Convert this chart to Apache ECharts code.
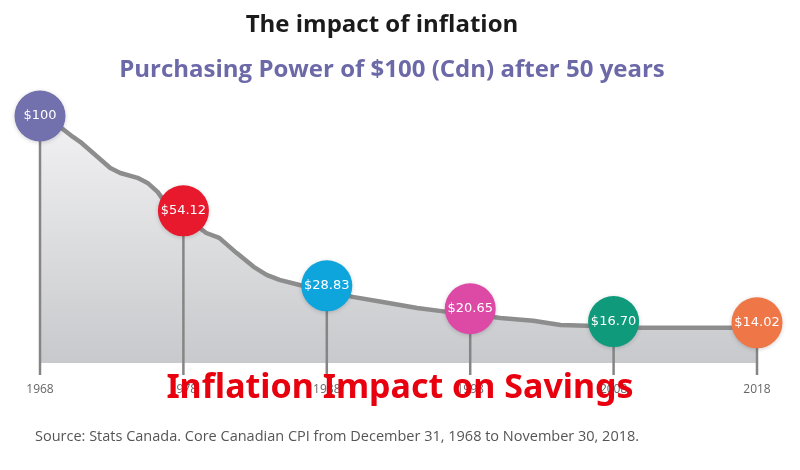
<!DOCTYPE html>
<html>
<head>
<meta charset="utf-8">
<script src="https://cdn.jsdelivr.net/npm/echarts/dist/echarts.min.js"></script>
<style>
html,body{margin:0;padding:0;background:#fff;}
#chart{width:800px;height:470px;}
</style>
</head>
<body>
<div id="chart"></div>
<script>
// Purchasing power curve: [year, value]
var powerLine = [
  [1968, 100], [1969.5, 97.1], [1970.3, 93.4], [1970.8, 91.4], [1972, 85.2],
  [1972.9, 80.6], [1973.6, 78.5], [1974.8, 76.5], [1975.5, 74.4], [1976.2, 70.7],
  [1976.6, 67.4], [1978, 60.8], [1979.6, 53.7], [1980.5, 51.7], [1981.7, 45.5],
  [1982.9, 39.7], [1983.8, 36.4], [1984.7, 34.3], [1986.1, 32.2], [1988, 29.8],
  [1989.8, 27.3], [1991.9, 25.2], [1994.3, 22.7], [1996.4, 21.1], [1998, 20.3],
  [2000.1, 18.6], [2002.4, 17.4], [2004.3, 15.7], [2008, 15.0], [2009.2, 14.5],
  [2018, 14.5]
];
// Highlighted milestones
var markYears = [1968, 1978, 1988, 1998, 2008, 2018];
var markLabels = ['$100', '$54.12', '$28.83', '$20.65', '$16.70', '$14.02'];
var markColors = ['#7371ad', '#e8192c', '#0ea5dd', '#dd4aa6', '#0f9b7b', '#ef7647'];
var tickYears = [1968, 1978, 1988, 1998, 2008, 2018];

var titleText = 'The impact of inflation';
var subtitleText = 'Purchasing Power of $100 (Cdn) after 50 years';
var sourceText = 'Source: Stats Canada. Core Canadian CPI from December 31, 1968 to November 30, 2018.';
var watermarkText = 'Inflation Impact on Savings';

function lineValueAt(year) {
  for (var i = 0; i < powerLine.length; i++) {
    if (powerLine[i][0] === year) return powerLine[i][1];
  }
  return 0;
}

var markData = markYears.map(function (y, i) {
  return {
    value: [y, lineValueAt(y)],
    label: { formatter: markLabels[i] },
    itemStyle: { color: markColors[i] }
  };
});

var chart = echarts.init(document.getElementById('chart'), null, { renderer: 'canvas' });

chart.setOption({
  backgroundColor: '#ffffff',
  animation: false,
  grid: { left: 40, right: 43, top: 121, bottom: 95, containLabel: false },
  xAxis: {
    type: 'value',
    min: tickYears[0],
    max: tickYears[tickYears.length - 1],
    interval: 10,
    axisLine: { show: false },
    axisTick: { show: false },
    splitLine: { show: false },
    axisLabel: {
      color: '#666666',
      fontFamily: 'Open Sans',
      fontSize: 12,
      margin: 9,
      formatter: function (v) { return String(v); }
    }
  },
  yAxis: {
    type: 'value',
    min: -5,
    max: 100,
    show: false,
    splitLine: { show: false }
  },
  series: [
    {
      type: 'line',
      data: powerLine,
      showSymbol: false,
      smooth: false,
      z: 2,
      lineStyle: { color: '#8d8d8d', width: 4.5, cap: 'round', join: 'round' },
      areaStyle: {
        origin: 0,
        opacity: 1,
        color: new echarts.graphic.LinearGradient(0, 0, 0, 1, [
          { offset: 0, color: '#f1f1f3' },
          { offset: 1, color: '#c8c9cc' }
        ])
      }
    },
    {
      type: 'custom',
      z: 3,
      data: markData.map(function (d) { return d.value; }),
      renderItem: function (params, api) {
        var top = api.coord([api.value(0), api.value(1)]);
        var bot = api.coord([api.value(0), -5]);
        return {
          type: 'line',
          shape: { x1: top[0], y1: top[1], x2: bot[0], y2: bot[1] },
          style: { stroke: '#858585', lineWidth: 2.5 }
        };
      }
    },
    {
      type: 'scatter',
      z: 4,
      data: markData,
      symbol: 'circle',
      symbolSize: 51,
      symbolOffset: [0, -5],
      itemStyle: { opacity: 1, shadowBlur: 4, shadowColor: 'rgba(0,0,0,0.18)', shadowOffsetY: 1 },
      label: {
        show: true,
        position: 'inside',
        color: '#ffffff',
        fontFamily: 'DejaVu Sans',
        fontSize: 13,
        fontWeight: 'normal'
      }
    }
  ],
  graphic: [
    {
      type: 'text', x: 382, y: 25, z: 10,
      style: { text: titleText, fill: '#1b1b1b', font: 'bold 24px "Open Sans"', textAlign: 'center', textVerticalAlign: 'middle' }
    },
    {
      type: 'text', x: 392, y: 70, z: 10,
      style: { text: subtitleText, fill: '#6c69a8', font: 'bold 24px "Open Sans"', textAlign: 'center', textVerticalAlign: 'middle' }
    },
    {
      type: 'text', x: 35, y: 437, z: 10,
      style: { text: sourceText, fill: '#555555', font: '14.5px "Open Sans"', textVerticalAlign: 'middle' }
    },
    {
      type: 'text', x: 400, y: 388, z: 100,
      style: {
        text: watermarkText, fill: '#e8000e', font: 'bold 34px "Noto Sans"',
        textAlign: 'center', textVerticalAlign: 'middle'
      }
    }
  ]
});
</script>
</body>
</html>
